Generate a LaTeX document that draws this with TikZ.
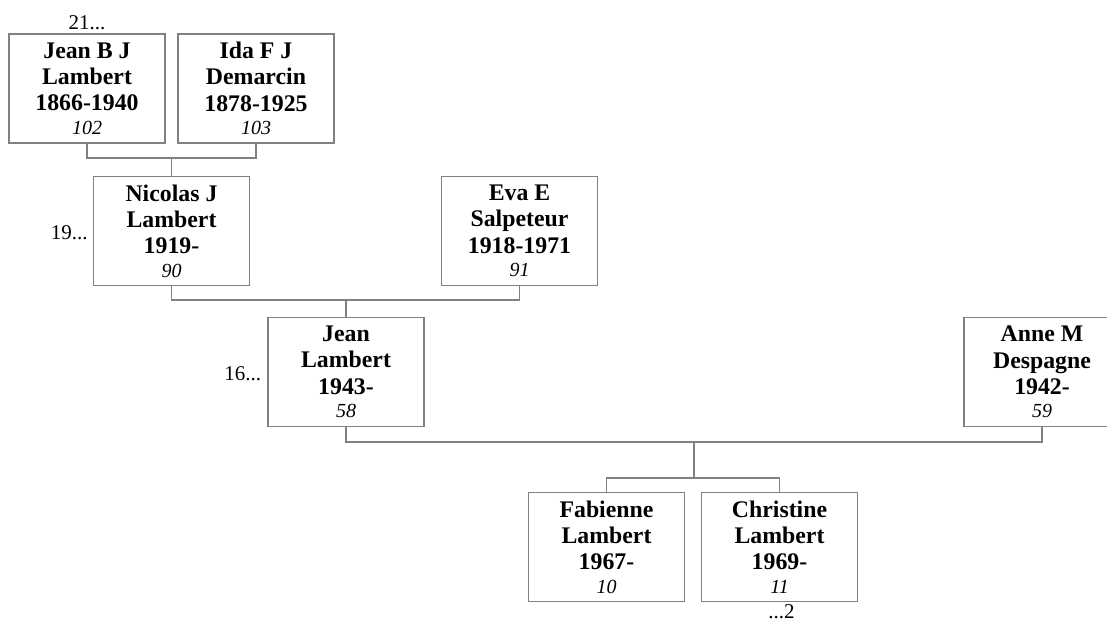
\documentclass[tikz,border=0pt]{standalone}
\usepackage{fontspec}
\setmainfont{Liberation Serif}
\begin{document}
\begin{tikzpicture}[x=1pt,y=1pt,
  person/.style={draw=gray, line width=1.3pt, fill=white, minimum width=156pt, minimum height=109pt,
    inner sep=0pt, align=center, font=\fontsize{23.8}{26.3}\selectfont\bfseries},
  link/.style={draw=gray, line width=1.3pt},
  gen/.style={inner sep=0pt, font=\fontsize{21}{24}\selectfont}]
\useasboundingbox (0,0) rectangle (1107,624);
\clip (0,0) rectangle (1107,624);
\newcommand{\refno}[1]{\\[-2.9pt]{\fontsize{20}{23}\selectfont\mdseries\itshape #1}}
% generation 1
\node[person] (A) at (87,535.5) {Jean B J\\Lambert\\1866-1940\refno{102}};
\node[person] (B) at (256,535.5) {Ida F J\\Demarcin\\1878-1925\refno{103}};
% generation 2
\node[person] (C) at (171.5,393) {Nicolas J\\Lambert\\1919-\refno{90}};
\node[person] (D) at (519.5,393) {Eva E\\Salpeteur\\1918-1971\refno{91}};
% generation 3
\node[person] (E) at (346,252) {Jean\\Lambert\\1943-\refno{58}};
\node[person] (F) at (1042,252) {Anne M\\Despagne\\1942-\refno{59}};
% generation 4
\node[person] (G) at (606.5,77) {Fabienne\\Lambert\\1967-\refno{10}};
\node[person] (H) at (779.5,77) {Christine\\Lambert\\1969-\refno{11}};
% junctions
\coordinate (j1) at (171.5,466);
\coordinate (j2) at (346,324);
\coordinate (j3) at (694,182);
\coordinate (j4) at (694,146);
\draw[link] (A.south) |- (j1) -| (B.south);
\draw[link] (j1) -- (C.north);
\draw[link] (C.south) |- (j2) -| (D.south);
\draw[link] (j2) -- (E.north);
\draw[link] (E.south) |- (j3) -| (F.south);
\draw[link] (j3) -- (j4);
\draw[link] (G.north) |- (j4) -| (H.north);
% generation labels
\node[gen, anchor=base] (gA) at ([yshift=4pt]A.north) {21...};
\node[gen, anchor=base east] (gC) at ([xshift=-5pt,yshift=-8.5pt]C.west) {19...};
\node[gen, anchor=base east] (gE) at ([xshift=-6pt,yshift=-9pt]E.west) {16...};
\node[gen, anchor=north] (gH) at ([xshift=2pt,yshift=-2pt]H.south) {...2};
\end{tikzpicture}
\end{document}
